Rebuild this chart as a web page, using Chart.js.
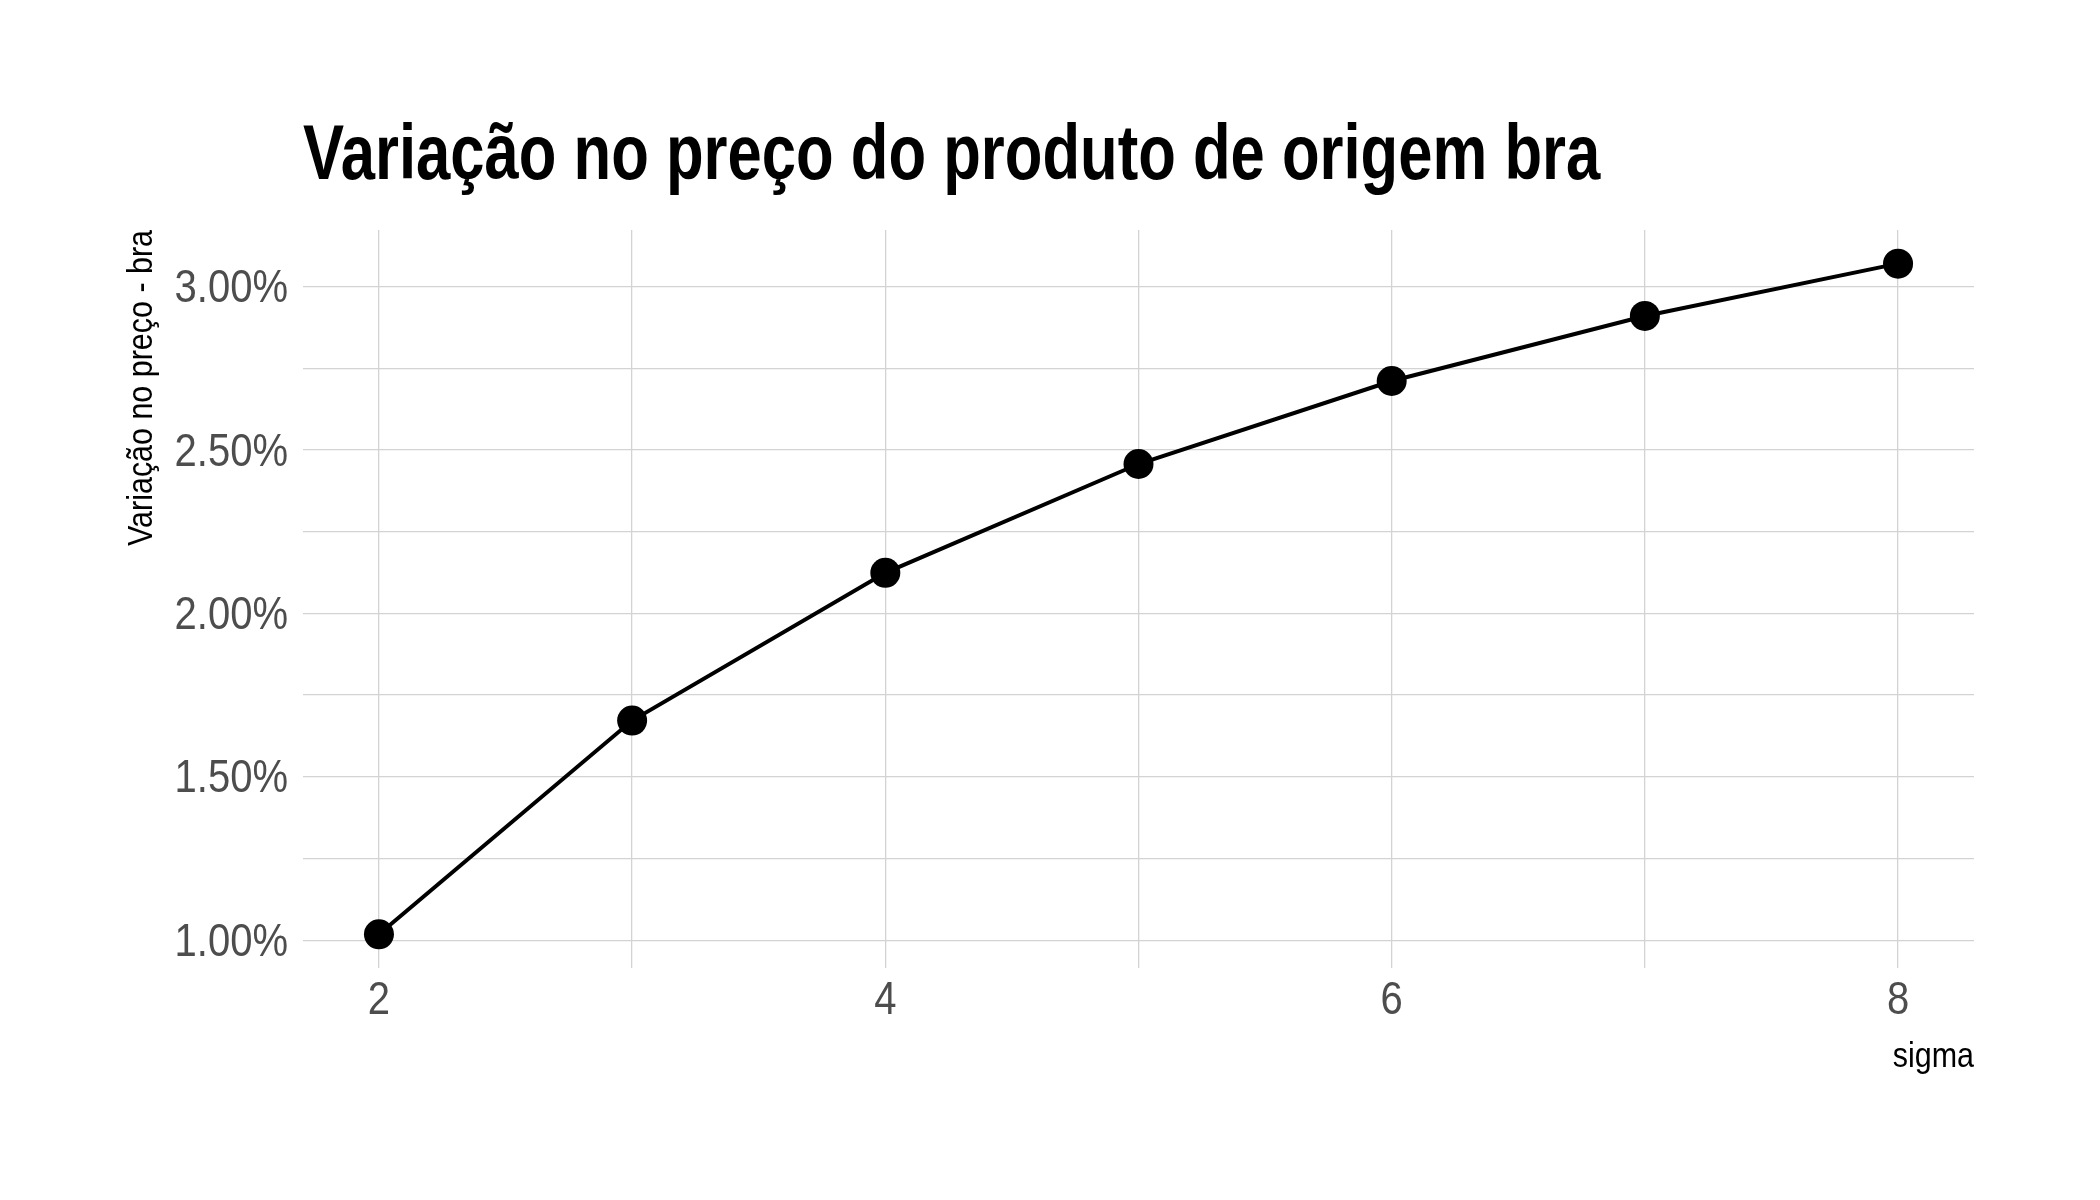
<!DOCTYPE html>
<html>
<head>
<meta charset="utf-8">
<script src="https://cdn.jsdelivr.net/npm/chart.js@4.4.1/dist/chart.umd.min.js"></script>
<style>
  html, body { margin: 0; padding: 0; background: #ffffff; }
  #wrap { width: 2100px; height: 1200px; }
</style>
</head>
<body>
<div id="wrap"><canvas id="c" width="2100" height="1200"></canvas></div>
<script>
// ---- data ----
const sigma = [2, 3, 4, 5, 6, 7, 8];
const variacao = [1.018, 1.672, 2.124, 2.457, 2.711, 2.910, 3.070];   // percent
const xTicks = [2, 3, 4, 5, 6, 7, 8];
const xLabeled = [2, 4, 6, 8];
const yTicks = [1.00, 1.25, 1.50, 1.75, 2.00, 2.25, 2.50, 2.75, 3.00];
const yLabeled = [1.00, 1.50, 2.00, 2.50, 3.00];
const xRange = [1.7, 8.3];
const yRange = [0.915, 3.173];
const titleText = 'Variação no preço do produto de origem bra';
const yTitle = 'Variação no preço - bra';
const xTitle = 'sigma';

const FONT = '"Liberation Sans", Arial, Helvetica, sans-serif';
const GRID = '#d3d3d3';
const TEXT_SQUEEZE = 0.87;   // horizontal condensation of axis text
const TITLE_SQUEEZE = 0.80;  // horizontal condensation of the title

const points = sigma.map((s, i) => ({ x: s, y: variacao[i] }));
const isIn = (arr, v) => arr.some(a => Math.abs(a - v) < 1e-9);

// draw the library's own label items, each condensed horizontally about its anchor
function drawLabelsCondensed(scale, sx, dy) {
  const ctx = scale.ctx;
  const items = scale.getLabelItems(scale.chart.chartArea);
  for (const item of items) {
    const o = item.options;
    const tx = o.translation[0], ty = o.translation[1] + dy;
    ctx.save();
    ctx.translate(tx, ty);
    ctx.scale(sx, 1);
    const opts = Object.assign({}, o);
    delete opts.translation;
    Chart.helpers.renderText(ctx, item.label, 0, item.textOffset, item.font, opts);
    ctx.restore();
  }
}

const condensePlugin = {
  id: 'condense',
  beforeDraw(chart) {
    const tb = chart.titleBlock;
    if (tb && !tb._condensed) {
      const orig = tb.draw.bind(tb);
      tb.draw = function () {
        const ctx = this.ctx, ax = this.left;
        ctx.save();
        ctx.translate(ax, 0); ctx.scale(TITLE_SQUEEZE, 1); ctx.translate(-ax, 0);
        orig();
        ctx.restore();
      };
      tb._condensed = true;
    }
    const xs = chart.scales.x, ys = chart.scales.y;
    if (xs && !xs._condensed) {
      xs.drawLabels = function () { drawLabelsCondensed(this, TEXT_SQUEEZE, 0); };
      const origT = xs.drawTitle.bind(xs);
      xs.drawTitle = function () {
        const ctx = this.ctx, ax = this.right;
        ctx.save();
        ctx.translate(ax, 0); ctx.scale(TEXT_SQUEEZE, 1); ctx.translate(-ax, 0);
        origT();
        ctx.restore();
      };
      xs._condensed = true;
    }
    if (ys && !ys._condensed) {
      ys.drawLabels = function () { drawLabelsCondensed(this, TEXT_SQUEEZE, 3); };
      const origT = ys.drawTitle.bind(ys);
      ys.drawTitle = function () {
        const ctx = this.ctx, ay = this.top;
        ctx.save();
        ctx.translate(0, ay); ctx.scale(1, TEXT_SQUEEZE); ctx.translate(0, -ay);
        origT();
        ctx.restore();
      };
      ys._condensed = true;
    }
  }
};

new Chart(document.getElementById('c'), {
  type: 'line',
  data: {
    datasets: [{
      data: points,
      borderColor: '#000000',
      backgroundColor: '#000000',
      borderWidth: 4,
      pointRadius: 15,
      pointHoverRadius: 15,
      pointBackgroundColor: '#000000',
      pointBorderWidth: 0,
      tension: 0
    }]
  },
  plugins: [condensePlugin],
  options: {
    responsive: false,
    animation: false,
    devicePixelRatio: 1,
    layout: { padding: { left: 100, right: 126, top: 0, bottom: 100 } },
    plugins: {
      legend: { display: false },
      tooltip: { enabled: false },
      title: {
        display: true,
        text: titleText,
        align: 'start',
        fullSize: false,
        color: '#000000',
        font: { family: FONT, size: 77, weight: 'bold', lineHeight: 1.2 },
        padding: { top: 112, bottom: 25.6 }
      }
    },
    scales: {
      x: {
        type: 'linear',
        min: xRange[0],
        max: xRange[1],
        border: { display: false },
        grid: { color: GRID, lineWidth: 1.3, drawTicks: false },
        afterBuildTicks: (axis) => { axis.ticks = xTicks.map(v => ({ value: v })); },
        afterFit: (axis) => { axis.height = 132; },
        ticks: {
          autoSkip: false,
          maxRotation: 0,
          padding: 6,
          color: '#4d4d4d',
          font: { family: FONT, size: 46 },
          callback: (v) => isIn(xLabeled, v) ? String(v) : ''
        },
        title: {
          display: true,
          text: xTitle,
          align: 'end',
          color: '#000000',
          font: { family: FONT, size: 35, lineHeight: 1.2 },
          padding: { top: 0, bottom: 22 }
        }
      },
      y: {
        type: 'linear',
        min: yRange[0],
        max: yRange[1],
        border: { display: false },
        grid: { color: GRID, lineWidth: 1.3, drawTicks: false },
        afterBuildTicks: (axis) => { axis.ticks = yTicks.map(v => ({ value: v })); },
        afterFit: (axis) => { axis.width = 203; },
        ticks: {
          autoSkip: false,
          padding: 15,
          color: '#4d4d4d',
          font: { family: FONT, size: 46 },
          callback: (v) => isIn(yLabeled, v) ? v.toFixed(2) + '%' : ''
        },
        title: {
          display: true,
          text: yTitle,
          align: 'end',
          color: '#000000',
          font: { family: FONT, size: 35, lineHeight: 1.2 },
          padding: { top: 21, bottom: 0 }
        }
      }
    }
  }
});
</script>
</body>
</html>
